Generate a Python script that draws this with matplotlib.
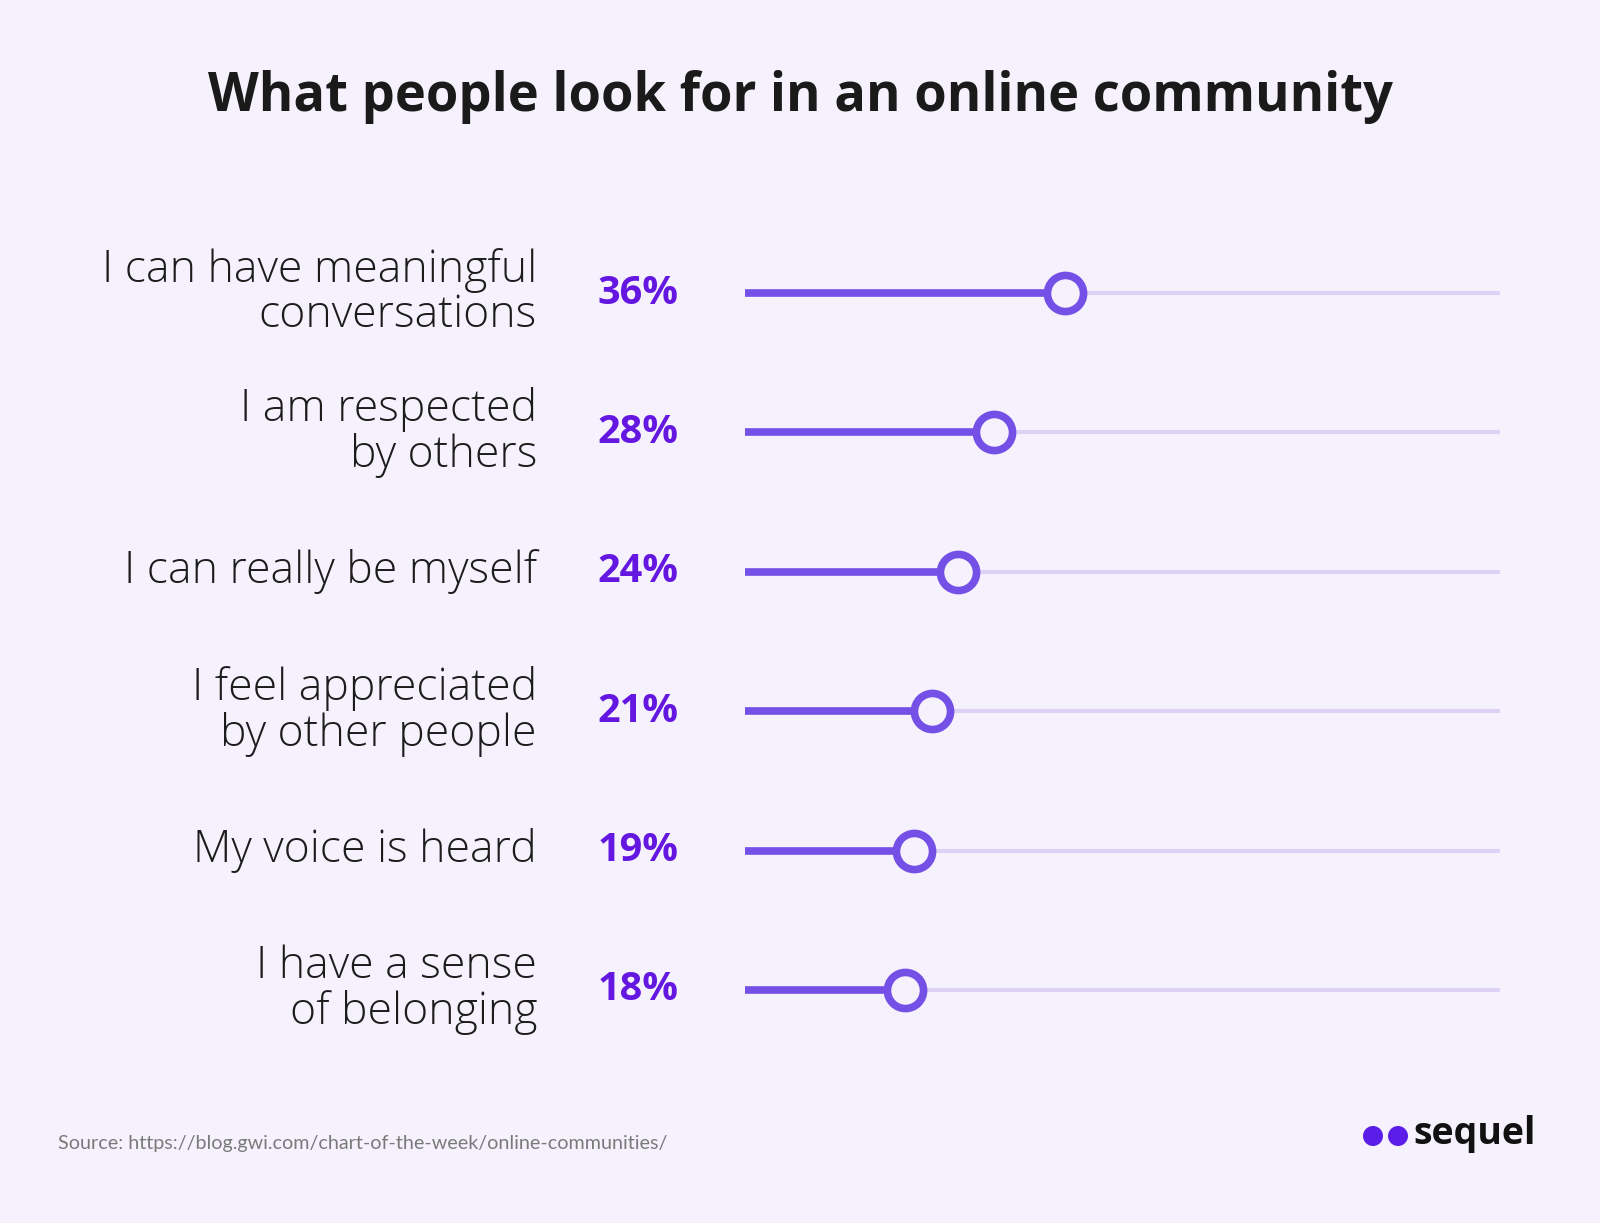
import matplotlib
matplotlib.use("Agg")
from matplotlib import pyplot as plt
from matplotlib import transforms
from matplotlib.patches import Ellipse


# Data
labels = [
    "I can have meaningful\nconversations",
    "I am respected\nby others",
    "I can really be myself",
    "I feel appreciated\nby other people",
    "My voice is heard",
    "I have a sense\nof belonging",
]
values = [36, 28, 24, 21, 19, 18]
track_max = 85

title = "What people look for in an online community"
source = "Source: https://blog.gwi.com/chart-of-the-week/online-communities/"

# Style
BG = "#f6f2fd"
LINE = "#7450e6"
TRACK = "#ddd2f6"
PCT = "#6417e0"
W, H = 1600, 1223

fig = plt.figure(figsize=(W / 100, H / 100), dpi=100, facecolor=BG)

# axes spans the track area horizontally, y in pixel units from the top
ax = fig.add_axes([745 / W, 0, 755 / W, 1])
ax.set_xlim(0, track_max)
ax.set_ylim(H, 0)
ax.axis("off")
ax.set_facecolor(BG)

row_top, row_step = 293, 139.4
label_tf = transforms.blended_transform_factory(fig.transFigure, ax.transData)

for i, (lab, val) in enumerate(zip(labels, values)):
    y = row_top + i * row_step
    ax.plot([0, track_max], [y, y], color=TRACK, lw=3, solid_capstyle="round", zorder=1)
    ax.plot([0, val], [y, y], color=LINE, lw=5.5, solid_capstyle="round", zorder=2)
    ax.plot([val], [y], marker="o", ms=26, mew=5.5, mfc=BG, mec=LINE, zorder=3)
    ax.text(537 / W, y, lab, transform=label_tf, ha="right", va="center",
            fontsize=32, fontfamily="Open Sans", fontweight="light", color="#1c1c1c",
            linespacing=1.03)
    ax.text(638 / W, y, f"{val}%", transform=label_tf, ha="center", va="center",
            fontsize=28.5, fontfamily="Open Sans", fontweight="bold", color=PCT)

fig.text(0.5, 1 - 97 / H, title, ha="center", va="center", fontsize=37.8,
         fontfamily="Open Sans", fontweight="bold", color="#1a1a1a")

fig.text(58 / W, 1 - 1143 / H, source, ha="left", va="center", fontsize=14.2,
         fontfamily="Lato", color="#7a7a7a")

# logo
for cx in (1373, 1398):
    fig.patches.append(Ellipse((cx / W, 1 - 1136 / H), 20 / W, 20 / H,
                               transform=fig.transFigure,
                               facecolor="#5a1ee8", edgecolor="none"))
fig.text(1413 / W, 1 - 1134 / H, "sequel", ha="left", va="center", fontsize=27,
         fontfamily="Open Sans", fontweight="bold", color="#111111")

fig.savefig("out.png", dpi=100, facecolor=BG)
